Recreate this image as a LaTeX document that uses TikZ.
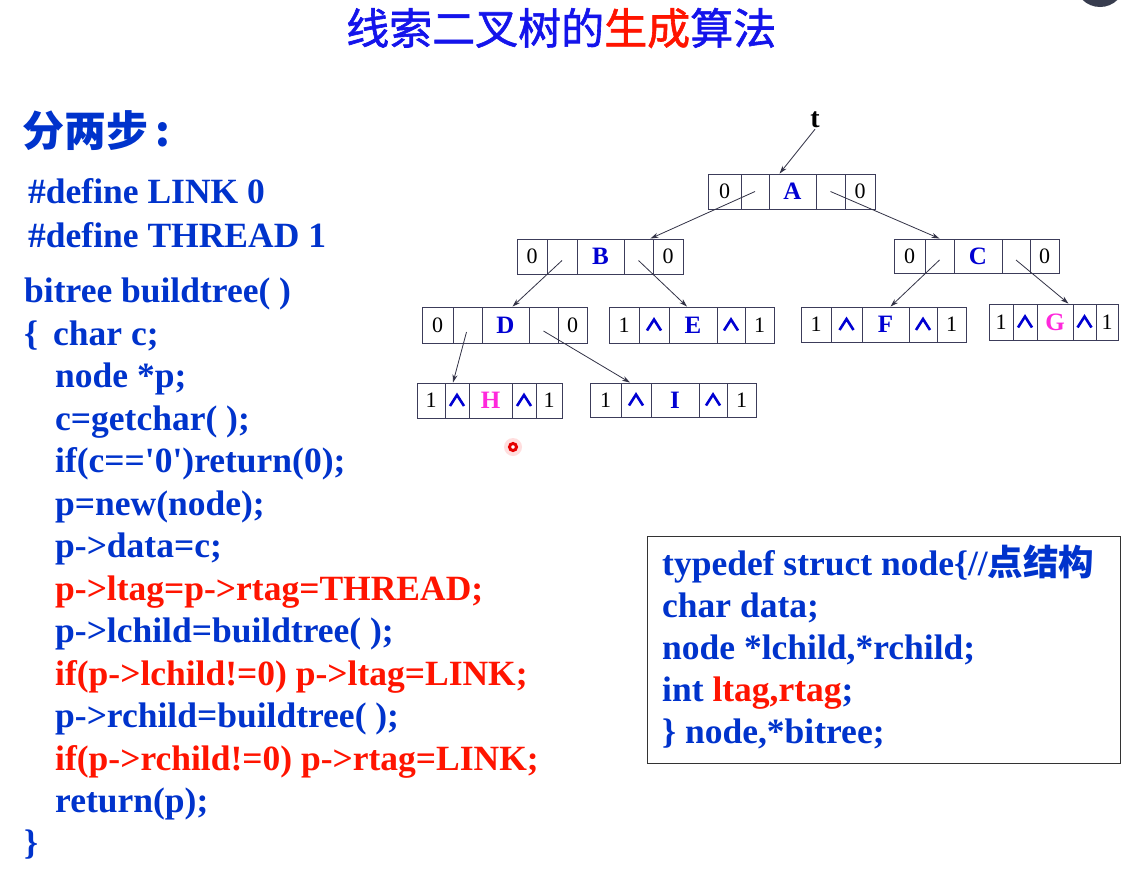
\documentclass[tikz,border=0pt]{standalone}
\usepackage{fontspec}
\setmainfont{Liberation Serif}
\newfontfamily\cjk{Noto Sans CJK SC}
\newfontfamily\cjkmid{Noto Sans CJK SC}[FakeBold=1.4]
\usetikzlibrary{arrows.meta}

\definecolor{titleblue}{RGB}{20,20,235}
\definecolor{codeblue}{RGB}{0,51,204}
\definecolor{codered}{RGB}{255,20,0}
\definecolor{nodeblue}{RGB}{0,0,210}
\definecolor{nodepink}{RGB}{255,40,220}
\definecolor{boxline}{RGB}{60,60,90}
\definecolor{arrowgray}{RGB}{50,50,70}
\definecolor{corner}{RGB}{55,60,78}

% cell contents
\newcommand\Zc{0}
\newcommand\Oc{1}
\newcommand\Lb[1]{{\fontsize{25}{25}\selectfont\bfseries\color{nodeblue}#1}}
\newcommand\Lp[1]{{\fontsize{25}{25}\selectfont\bfseries\color{nodepink}#1}}

% a tree node made of five cells: name, top, bottom, x0/x1/content list
\newcommand\tnode[4]{%
  \foreach \xa/\xb/\txt [count=\i] in {#4}{
    \node[cellbox, minimum width={\xb-\xa}, minimum height={#3-#2}]
      (#1\i) at ({(\xa+\xb)/2},{(#2+#3)/2}) {\txt};
  }}

% null-pointer caret drawn in a cell
\newcommand\nullmark[1]{%
  \draw[caret] ([xshift=-7pt,yshift=-5.5pt]#1.center) -- ([yshift=5.5pt]#1.center)
    -- ([xshift=7pt,yshift=-5.5pt]#1.center);}

\tikzset{
  cellbox/.style={draw=boxline, line width=0.9pt, inner sep=0pt,
    font=\fontsize{22}{22}\selectfont},
  caret/.style={draw=nodeblue, line width=2.6pt, line join=miter, miter limit=10},
  ptr/.style={draw=arrowgray, line width=0.8pt, -{Stealth[length=8pt,width=5pt]}},
  code/.style={anchor=base west, inner sep=0pt, text=codeblue,
    font=\fontsize{35.5}{35.5}\selectfont\bfseries},
  hot/.style={text=codered},
}

\begin{document}
\begin{tikzpicture}[x=1pt,y=-1pt]
\useasboundingbox (0,0) rectangle (1139,868);
\clip (0,0) rectangle (1139,868);
\fill[white] (0,0) rectangle (1139,868);
\fill[corner] (1100,-18) circle (25);

% title
\node[anchor=west, inner sep=0pt, text=titleblue,
  font=\cjkmid\fontsize{43}{43}\selectfont] (title) at (346,28)
  {线索二叉树的{\color{codered}生成}算法};

\node[anchor=west, inner sep=0pt, text=codeblue,
  font=\cjk\bfseries\fontsize{42}{42}\selectfont] (steps) at (22,131)
  {分两步\,:};

% code listing
\node[code] (d1) at (28,203) {\#define LINK 0};
\node[code] (d2) at (28,247) {\#define THREAD 1};
\node[code] (c1) at (24,302) {bitree buildtree( )};
\node[code] (c2) at (24,345) {\{\hspace{15pt}char c;};
\node[code] (c3) at (55,387) {node *p;};
\node[code] (c4) at (55,430) {c=getchar( );};
\node[code] (c5) at (55,472) {if(c==\textquotesingle0\textquotesingle)return(0);};
\node[code] (c6) at (55,515) {p=new(node);};
\node[code] (c7) at (55,557) {p->data=c;};
\node[code,hot] (c8) at (55,600) {p->ltag=p->rtag=THREAD;};
\node[code] (c9) at (55,642) {p->lchild=buildtree( );};
\node[code,hot] (c10) at (55,685) {if(p->lchild!=0) p->ltag=LINK;};
\node[code] (c11) at (55,727) {p->rchild=buildtree( );};
\node[code,hot] (c12) at (55,770) {if(p->rchild!=0) p->rtag=LINK;};
\node[code] (c13) at (55,812) {return(p);};
\node[code] (c14) at (24,854) {\}};

% struct declaration
\node[draw=black!80, line width=1.3pt, anchor=north west, inner sep=0pt,
  minimum width=473, minimum height=227] (sbox) at (647,536) {};
\node[code] (s1) at (662,575) {typedef struct node\{//{\cjk\bfseries 点结构}};
\node[code] (s2) at (662,617) {char data;};
\node[code] (s3) at (662,659) {node *lchild,*rchild;};
\node[code] (s4) at (662,701) {int {\color{codered}ltag,rtag};};
\node[code] (s5) at (662,743) {\} node,*bitree;};

% threaded tree
\tnode{A}{174}{209}{708/741/\Zc, 741/769/{}, 769/816/\Lb{A}, 816/845/{}, 845/875/\Zc}
\tnode{B}{239}{274}{517/547/\Zc, 547/577/{}, 577/624/\Lb{B}, 624/653/{}, 653/683/\Zc}
\tnode{C}{239}{273}{894/925/\Zc, 925/954/{}, 954/1002/\Lb{C}, 1002/1030/{}, 1030/1059/\Zc}
\tnode{D}{307}{343}{422/453/\Zc, 453/482/{}, 482/529/\Lb{D}, 529/558/{}, 558/587/\Zc}
\tnode{E}{307}{343}{609/639/\Oc, 639/669/{}, 669/717/\Lb{E}, 717/745/{}, 745/774/\Oc}
\tnode{F}{307}{342}{801/831/\Oc, 831/862/{}, 862/909/\Lb{F}, 909/937/{}, 937/966/\Oc}
\tnode{G}{304}{340}{989/1013/\Oc, 1013/1037/{}, 1037/1073/\Lp{G}, 1073/1096/{}, 1096/1118/\Oc}
\tnode{H}{383}{418}{417/445/\Oc, 445/469/{}, 469/512/\Lp{H}, 512/536/{}, 536/562/\Oc}
\tnode{I}{383}{417}{590/621/\Oc, 621/651/{}, 651/699/\Lb{I}, 699/727/{}, 727/756/\Oc}

\foreach \n in {E,F,G,H,I}{\nullmark{\n2}\nullmark{\n4}}

\node[inner sep=1pt, font=\fontsize{28}{28}\selectfont\bfseries] (t) at (815,120) {t};

% pointers
\draw[ptr] (t.south) -- ([xshift=11pt]A3.north west);
\draw[ptr] (A2.center) -- ([xshift=-3pt]B4.north east);
\draw[ptr] (A4.center) -- (C2.north);
\draw[ptr] ([yshift=-4pt]B2.center) -- ([xshift=7pt]D3.north);
\draw[ptr] ([yshift=-4pt]B4.center) -- ([xshift=-6pt]E3.north);
\draw[ptr] ([yshift=-4pt]C2.center) -- ([xshift=5pt]F3.north);
\draw[ptr] ([yshift=-4pt]C4.center) -- ([xshift=-5pt]G3.north east);
\draw[ptr] ([xshift=-1pt,yshift=-7pt]D2.center) -- ([xshift=-4pt]H2.north);
\draw[ptr] ([yshift=-6pt]D4.center) -- ([xshift=-6pt]I2.north);

% pointer spot
\fill[red!25, opacity=0.5] (513,447) circle (9);
\draw[red!90!black, line width=3pt, fill=white] (513,447) circle (3.5);
\end{tikzpicture}
\end{document}
